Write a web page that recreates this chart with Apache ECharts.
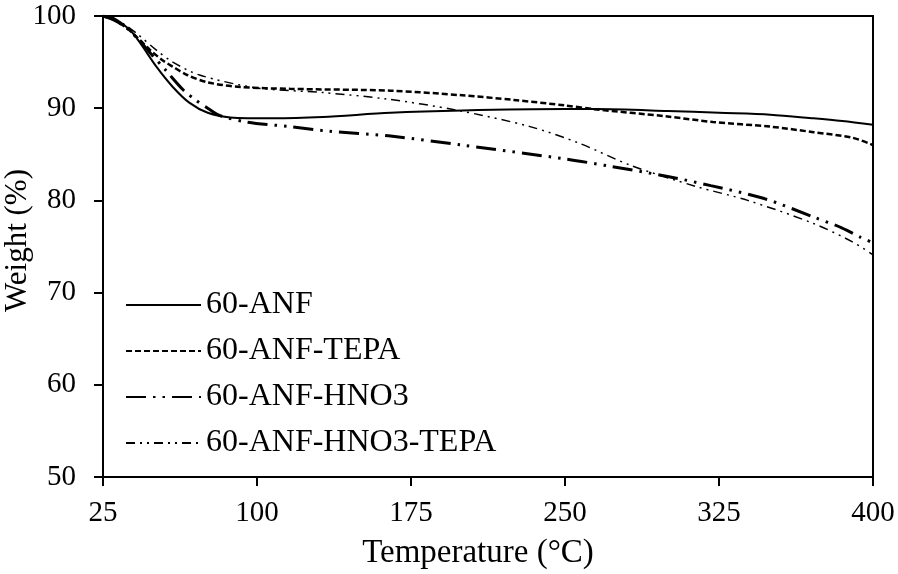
<!DOCTYPE html>
<html>
<head>
<meta charset="utf-8">
<script src="https://cdn.jsdelivr.net/npm/echarts@6/dist/echarts.min.js"></script>
<style>
html,body{margin:0;padding:0;background:#fff;}
#chart{width:898px;height:574px;}
</style>
</head>
<body>
<div id="chart"></div>
<script>
const xTicks = [25, 100, 175, 250, 325, 400];

const anfT = [25, 30, 38, 43, 51, 59, 67, 76, 87, 108, 132, 165, 200, 250, 265, 300, 325, 350, 371, 385, 400];
const anfW = [100, 99.8, 98.5, 97.1, 94.5, 92.3, 90.6, 89.5, 89.0, 88.9, 89.05, 89.5, 89.75, 89.9, 89.9, 89.7, 89.5, 89.3, 88.9, 88.6, 88.2];

const tepaT = [25, 30, 36, 42, 48, 54, 59, 66, 76, 92, 116, 165, 200, 225, 250, 264, 300, 322, 350, 371, 390, 400];
const tepaW = [100, 99.6, 98.8, 97.6, 96.3, 95.2, 94.5, 93.6, 92.8, 92.3, 92.1, 91.9, 91.4, 90.9, 90.3, 89.9, 89.1, 88.5, 88.0, 87.4, 86.8, 86.0];

const hno3T = [25, 30, 36, 42, 48, 56, 64, 70, 76, 82, 95, 116, 135, 164, 200, 250, 272, 300, 321, 347, 371, 385, 394, 400];
const hno3W = [100, 99.6, 98.8, 97.5, 96.0, 94.0, 92.0, 90.9, 90.0, 89.2, 88.5, 88.0, 87.5, 87.0, 86.0, 84.5, 83.7, 82.6, 81.6, 80.2, 78.2, 77.0, 76.0, 75.4];

const hno3TepaT = [25, 30, 36, 42, 51, 59, 72, 100, 132, 163, 197, 233, 257, 282, 314, 339, 371, 390, 400];
const hno3TepaW = [100, 99.7, 99.0, 98.0, 96.3, 95.0, 93.6, 92.2, 91.7, 91.0, 89.8, 88.0, 86.2, 83.8, 81.5, 80.0, 77.5, 75.5, 74.1];

const seriesNames = ['60-ANF', '60-ANF-TEPA', '60-ANF-HNO3', '60-ANF-HNO3-TEPA'];

function pairs(t, w) { return t.map((v, i) => [v, w[i]]); }

const FONT = '"Liberation Serif", "DejaVu Serif", serif';

const chart = echarts.init(document.getElementById('chart'), null, {renderer: 'canvas'});
chart.setOption({
  animation: false,
  backgroundColor: '#fff',
  grid: {left: 103, right: 25, top: 16, bottom: 97, show: true, borderColor: '#000', borderWidth: 2,
    backgroundColor: 'transparent', containLabel: false, outerBoundsMode: 'none'},
  legend: {
    orient: 'vertical',
    left: 120,
    top: 284,
    itemWidth: 75,
    itemHeight: 14,
    itemGap: 14,
    itemStyle: {opacity: 0},
    textStyle: {fontFamily: FONT, fontSize: 32, color: '#000', lineHeight: 32},
    data: seriesNames
  },
  xAxis: {
    type: 'value', min: 25, max: 400,
    name: 'Temperature (°C)', nameLocation: 'middle', nameGap: 60, nameMoveOverlap: false,
    nameTextStyle: {fontFamily: FONT, fontSize: 33, color: '#000', padding: [0, 20, 0, 0]},
    axisLine: {show: true, lineStyle: {color: '#000', width: 2}},
    axisTick: {show: true, inside: false, length: 9, lineStyle: {color: '#000', width: 2}, customValues: xTicks},
    axisLabel: {fontFamily: FONT, fontSize: 29, color: '#000', margin: 22, customValues: xTicks},
    splitLine: {show: false}
  },
  yAxis: {
    type: 'value', min: 50, max: 100, interval: 10,
    name: 'Weight (%)', nameLocation: 'middle', nameGap: 70, nameMoveOverlap: false,
    nameTextStyle: {fontFamily: FONT, fontSize: 31, color: '#000', padding: [0, 0, 0, 12]},
    axisLine: {show: true, lineStyle: {color: '#000', width: 2}},
    axisTick: {show: true, inside: false, length: 9, lineStyle: {color: '#000', width: 2}},
    axisLabel: {fontFamily: FONT, fontSize: 29, color: '#000', margin: 27},
    splitLine: {show: false}
  },
  series: [
    {name: seriesNames[0], type: 'line', data: pairs(anfT, anfW), symbol: 'none', smooth: 0.3,
      lineStyle: {color: '#000', width: 2, type: 'solid'}, itemStyle: {color: '#000'}},
    {name: seriesNames[1], type: 'line', data: pairs(tepaT, tepaW), symbol: 'none', smooth: 0.3,
      lineStyle: {color: '#000', width: 2.5, type: [6, 3]}, itemStyle: {color: '#000'}},
    {name: seriesNames[2], type: 'line', data: pairs(hno3T, hno3W), symbol: 'none', smooth: 0.3,
      lineStyle: {color: '#000', width: 3, type: [20, 7, 2.5, 7, 2.5, 7]}, itemStyle: {color: '#000'}},
    {name: seriesNames[3], type: 'line', data: pairs(hno3TepaT, hno3TepaW), symbol: 'none', smooth: 0.3,
      lineStyle: {color: '#000', width: 1.5, type: [9, 5, 2, 5, 2, 5]}, itemStyle: {color: '#000'}}
  ]
});
</script>
</body>
</html>
